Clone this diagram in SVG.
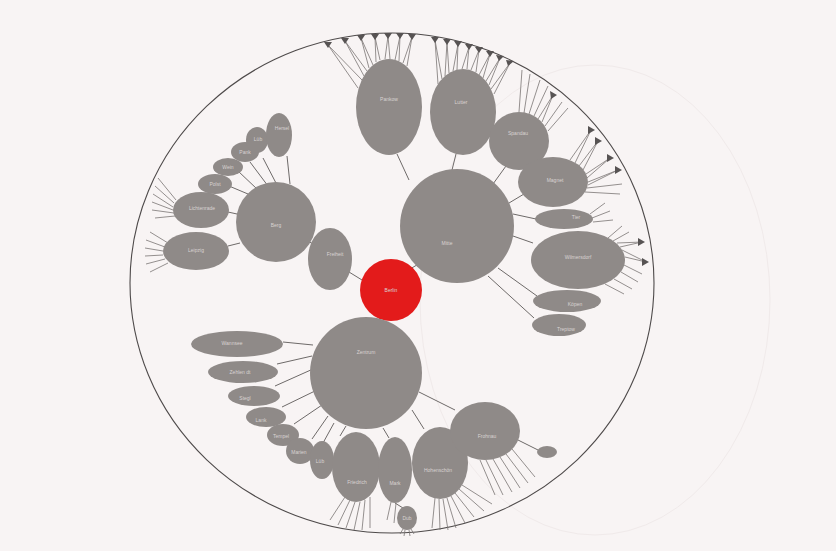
<svg xmlns="http://www.w3.org/2000/svg" width="836" height="551" viewBox="0 0 836 551">
<defs>
<style>
.n{fill:#8f8a88}
.r{fill:#e31b1b}
.t{font-family:"Liberation Sans",Arial,sans-serif;font-size:5px;fill:#d9d3d2;text-anchor:middle}
.c line{stroke:#6e6a69;stroke-width:1}
.f line{stroke:#7a7574;stroke-width:0.8}
.tri{fill:#575353}
</style>
</defs>
<rect width="836" height="551" fill="#f8f4f4"/>
<ellipse cx="595" cy="300" rx="175" ry="235" fill="none" stroke="#f0eaea" stroke-width="1"/>
<ellipse cx="392" cy="283" rx="262" ry="250" fill="none" stroke="#4e4a4a" stroke-width="1.1"/>

<g id="connectors" class="c">
<line x1="410" y1="269" x2="422" y2="262"/>
<line x1="380" y1="318" x2="376" y2="322"/>
<line x1="362" y1="280" x2="349" y2="272"/>
<line x1="313" y1="244" x2="306" y2="240"/>
<line x1="409" y1="180" x2="397" y2="154"/>
<line x1="452" y1="170" x2="456" y2="154"/>
<line x1="493" y1="184" x2="506" y2="166"/>
<line x1="509" y1="203" x2="524" y2="194"/>
<line x1="513" y1="214" x2="536" y2="219"/>
<line x1="513" y1="236" x2="533" y2="243"/>
<line x1="498" y1="268" x2="537" y2="296"/>
<line x1="488" y1="276" x2="534" y2="318"/>
<line x1="283" y1="342" x2="313" y2="345"/>
<line x1="277" y1="364" x2="312" y2="356"/>
<line x1="275" y1="386" x2="313" y2="369"/>
<line x1="282" y1="407" x2="317" y2="390"/>
<line x1="294" y1="424" x2="322" y2="405"/>
<line x1="312" y1="439" x2="328" y2="416"/>
<line x1="323" y1="443" x2="334" y2="423"/>
<line x1="340" y1="436" x2="346" y2="426"/>
<line x1="383" y1="428" x2="389" y2="438"/>
<line x1="412" y1="410" x2="424" y2="429"/>
<line x1="419" y1="392" x2="455" y2="410"/>
<line x1="263" y1="158" x2="277" y2="185"/>
<line x1="250" y1="162" x2="268" y2="186"/>
<line x1="287" y1="156" x2="290" y2="184"/>
<line x1="238" y1="171" x2="257" y2="189"/>
<line x1="229" y1="186" x2="248" y2="194"/>
<line x1="228" y1="212" x2="237" y2="214"/>
<line x1="228" y1="246" x2="240" y2="243"/>
<line x1="395" y1="503" x2="403" y2="508"/>
<line x1="518" y1="440" x2="538" y2="450"/>
</g>

<g id="leaves" class="f">
<line x1="358" y1="88" x2="328" y2="45"/><line x1="362" y1="80" x2="328" y2="45"/>
<line x1="364" y1="76" x2="345" y2="41"/><line x1="367" y1="71" x2="345" y2="41"/>
<line x1="369" y1="68" x2="361" y2="38"/><line x1="373" y1="65" x2="361" y2="38"/>
<line x1="376" y1="62" x2="375" y2="37"/><line x1="380" y1="60" x2="375" y2="37"/>
<line x1="385" y1="59" x2="388" y2="36"/><line x1="390" y1="59" x2="388" y2="36"/>
<line x1="395" y1="60" x2="400" y2="36"/><line x1="399" y1="61" x2="400" y2="36"/>
<line x1="403" y1="63" x2="412" y2="37"/><line x1="407" y1="66" x2="412" y2="37"/>
<line x1="438" y1="84" x2="435" y2="40"/><line x1="442" y1="79" x2="435" y2="40"/>
<line x1="445" y1="76" x2="447" y2="42"/><line x1="449" y1="73" x2="447" y2="42"/>
<line x1="453" y1="71" x2="458" y2="44"/><line x1="457" y1="70" x2="458" y2="44"/>
<line x1="462" y1="69" x2="469" y2="47"/><line x1="467" y1="69" x2="469" y2="47"/>
<line x1="471" y1="70" x2="479" y2="50"/><line x1="476" y1="72" x2="479" y2="50"/>
<line x1="479" y1="75" x2="490" y2="54"/><line x1="483" y1="78" x2="490" y2="54"/>
<line x1="486" y1="81" x2="500" y2="58"/><line x1="489" y1="85" x2="500" y2="58"/>
<line x1="491" y1="89" x2="510" y2="63"/><line x1="494" y1="94" x2="510" y2="63"/>
<line x1="519" y1="112" x2="522" y2="70"/><line x1="524" y1="113" x2="530" y2="74"/>
<line x1="529" y1="114" x2="540" y2="80"/><line x1="534" y1="116" x2="548" y2="86"/>
<line x1="538" y1="119" x2="553" y2="95"/><line x1="542" y1="122" x2="553" y2="95"/>
<line x1="545" y1="126" x2="562" y2="102"/><line x1="548" y1="131" x2="568" y2="108"/>
<line x1="570" y1="160" x2="591" y2="130"/><line x1="575" y1="163" x2="591" y2="130"/>
<line x1="579" y1="166" x2="598" y2="141"/><line x1="583" y1="170" x2="598" y2="141"/>
<line x1="586" y1="174" x2="610" y2="158"/><line x1="587" y1="178" x2="610" y2="158"/>
<line x1="588" y1="182" x2="618" y2="170"/><line x1="588" y1="185" x2="618" y2="170"/>
<line x1="587" y1="188" x2="622" y2="184"/><line x1="585" y1="192" x2="620" y2="194"/>
<line x1="590" y1="214" x2="605" y2="203"/><line x1="592" y1="218" x2="610" y2="211"/>
<line x1="593" y1="222" x2="613" y2="220"/>
<line x1="608" y1="238" x2="622" y2="226"/><line x1="613" y1="241" x2="629" y2="232"/>
<line x1="617" y1="243" x2="642" y2="242"/><line x1="620" y1="247" x2="642" y2="242"/>
<line x1="622" y1="250" x2="646" y2="262"/><line x1="625" y1="257" x2="646" y2="262"/>
<line x1="624" y1="265" x2="642" y2="274"/><line x1="621" y1="272" x2="638" y2="282"/>
<line x1="614" y1="279" x2="632" y2="289"/><line x1="605" y1="284" x2="624" y2="294"/>
<line x1="176" y1="200" x2="158" y2="178"/><line x1="174" y1="203" x2="155" y2="186"/>
<line x1="173" y1="207" x2="153" y2="194"/><line x1="173" y1="210" x2="152" y2="202"/>
<line x1="174" y1="213" x2="152" y2="210"/><line x1="175" y1="216" x2="155" y2="218"/>
<line x1="168" y1="243" x2="150" y2="232"/><line x1="165" y1="247" x2="146" y2="240"/>
<line x1="163" y1="251" x2="145" y2="248"/><line x1="163" y1="255" x2="145" y2="256"/>
<line x1="165" y1="259" x2="146" y2="264"/><line x1="168" y1="263" x2="150" y2="272"/>
<line x1="345" y1="497" x2="330" y2="520"/><line x1="350" y1="500" x2="338" y2="525"/>
<line x1="355" y1="502" x2="346" y2="528"/><line x1="360" y1="502" x2="354" y2="530"/>
<line x1="365" y1="500" x2="362" y2="530"/><line x1="370" y1="497" x2="370" y2="528"/>
<line x1="391" y1="502" x2="387" y2="520"/><line x1="396" y1="503" x2="394" y2="523"/>
<line x1="403" y1="529" x2="400" y2="534"/><line x1="405" y1="530" x2="404" y2="536"/>
<line x1="409" y1="530" x2="410" y2="536"/><line x1="411" y1="529" x2="414" y2="534"/>
<line x1="435" y1="498" x2="432" y2="528"/><line x1="439" y1="499" x2="440" y2="530"/>
<line x1="443" y1="499" x2="448" y2="530"/><line x1="447" y1="498" x2="456" y2="528"/>
<line x1="451" y1="496" x2="465" y2="523"/><line x1="455" y1="493" x2="474" y2="517"/>
<line x1="459" y1="489" x2="484" y2="511"/><line x1="462" y1="485" x2="492" y2="504"/>
<line x1="480" y1="460" x2="495" y2="495"/><line x1="486" y1="460" x2="503" y2="495"/>
<line x1="493" y1="459" x2="512" y2="492"/><line x1="500" y1="457" x2="520" y2="488"/>
<line x1="506" y1="454" x2="528" y2="483"/><line x1="512" y1="449" x2="535" y2="477"/>
</g>

<g id="leaf-ends" class="tri">
<polygon points="324,42 332,42 328,48"/>
<polygon points="341,38 349,38 345,44"/>
<polygon points="357,35 365,35 361,41"/>
<polygon points="371,34 379,34 375,40"/>
<polygon points="384,33 392,33 388,39"/>
<polygon points="396,33 404,33 400,39"/>
<polygon points="408,34 416,34 412,40"/>
<polygon points="431,37 439,37 435,43"/>
<polygon points="443,39 451,39 447,45"/>
<polygon points="454,41 462,41 458,47"/>
<polygon points="465,44 473,44 469,50"/>
<polygon points="475,47 483,47 479,53"/>
<polygon points="486,51 494,51 490,57"/>
<polygon points="496,55 504,56 499,61"/>
<polygon points="506,60 514,61 508,66"/>
<polygon points="550,91 557,95 551,99"/>
<polygon points="588,126 595,130 588,134"/>
<polygon points="595,137 602,141 595,145"/>
<polygon points="607,154 614,158 607,162"/>
<polygon points="615,166 622,170 615,174"/>
<polygon points="638,238 645,242 638,246"/>
<polygon points="642,258 649,262 642,266"/>
</g>

<g id="n-berlin"><circle class="r" cx="391" cy="290" r="31"/><text class="t" x="391" y="292">Berlin</text></g>
<g id="n-mitte"><circle class="n" cx="457" cy="226" r="57"/><text class="t" x="447" y="245">Mitte</text></g>
<g id="n-zentrum"><circle class="n" cx="366" cy="373" r="56"/><text class="t" x="366" y="354">Zentrum</text></g>
<g id="n-berg"><circle class="n" cx="276" cy="222" r="40"/><text class="t" x="276" y="227">Berg</text></g>
<g id="n-freiheit"><ellipse class="n" cx="330" cy="259" rx="22" ry="31"/><text class="t" x="335" y="256">Freiheit</text></g>
<g id="n-a"><ellipse class="n" cx="389" cy="107" rx="33" ry="48"/><text class="t" x="389" y="101">Pankow</text></g>
<g id="n-b"><ellipse class="n" cx="463" cy="112" rx="33" ry="43"/><text class="t" x="461" y="104">Lutter</text></g>
<g id="n-c"><ellipse class="n" cx="519" cy="141" rx="30" ry="29"/><text class="t" x="518" y="135">Spandau</text></g>
<g id="n-d"><ellipse class="n" cx="553" cy="182" rx="35" ry="25"/><text class="t" x="555" y="182">Magnet</text></g>
<g id="n-e"><ellipse class="n" cx="564" cy="219" rx="29" ry="10"/><text class="t" x="576" y="219">Tier</text></g>
<g id="n-f"><ellipse class="n" cx="578" cy="260" rx="47" ry="29"/><text class="t" x="578" y="259">Wilmersdorf</text></g>
<g id="n-g"><ellipse class="n" cx="567" cy="301" rx="34" ry="11"/><text class="t" x="575" y="306">Köpen</text></g>
<g id="n-h"><ellipse class="n" cx="559" cy="325" rx="27" ry="11"/><text class="t" x="566" y="331">Treptow</text></g>
<g id="n-l1"><ellipse class="n" cx="201" cy="210" rx="28" ry="18"/><text class="t" x="202" y="210">Lichtenrade</text></g>
<g id="n-l2"><ellipse class="n" cx="196" cy="251" rx="33" ry="19"/><text class="t" x="196" y="252">Leipzig</text></g>
<g id="n-l3"><ellipse class="n" cx="215" cy="184" rx="17" ry="10"/><text class="t" x="215" y="186">Polst</text></g>
<g id="n-l4"><ellipse class="n" cx="228" cy="167" rx="15" ry="9"/><text class="t" x="228" y="169">Wein</text></g>
<g id="n-l5"><ellipse class="n" cx="245" cy="152" rx="14" ry="10"/><text class="t" x="245" y="154">Pank</text></g>
<g id="n-l6"><ellipse class="n" cx="257" cy="140" rx="11" ry="13"/><text class="t" x="258" y="141">Lüb</text></g>
<g id="n-l7"><ellipse class="n" cx="279" cy="135" rx="13" ry="22"/><text class="t" x="282" y="130">Hersel</text></g>
<g id="n-b1"><ellipse class="n" cx="237" cy="344" rx="46" ry="13"/><text class="t" x="232" y="345">Wannsee</text></g>
<g id="n-b2"><ellipse class="n" cx="243" cy="372" rx="35" ry="11"/><text class="t" x="240" y="374">Zehlen dt</text></g>
<g id="n-b3"><ellipse class="n" cx="254" cy="396" rx="26" ry="10"/><text class="t" x="245" y="400">Stegl</text></g>
<g id="n-b4"><ellipse class="n" cx="266" cy="417" rx="20" ry="10"/><text class="t" x="261" y="422">Lank</text></g>
<g id="n-b5"><ellipse class="n" cx="283" cy="435" rx="16" ry="11"/><text class="t" x="281" y="438">Tempel</text></g>
<g id="n-b6"><ellipse class="n" cx="300" cy="451" rx="14" ry="13"/><text class="t" x="299" y="454">Marien</text></g>
<g id="n-b7"><ellipse class="n" cx="322" cy="460" rx="12" ry="19"/><text class="t" x="320" y="463">Lüb</text></g>
<g id="n-b8"><ellipse class="n" cx="356" cy="467" rx="24" ry="35"/><text class="t" x="357" y="484">Friedrich</text></g>
<g id="n-b9"><ellipse class="n" cx="395" cy="470" rx="17" ry="33"/><text class="t" x="395" y="485">Mark</text></g>
<g id="n-b10"><ellipse class="n" cx="440" cy="463" rx="28" ry="36"/><text class="t" x="438" y="472">Hohenschön</text></g>
<g id="n-b11"><ellipse class="n" cx="485" cy="431" rx="35" ry="29"/><text class="t" x="487" y="438">Frohnau</text></g>
<g id="n-dub"><ellipse class="n" cx="407" cy="518" rx="10" ry="12"/><text class="t" x="407" y="520">Dub</text></g>
<g id="n-s"><ellipse class="n" cx="547" cy="452" rx="10" ry="6"/></g>
</svg>
